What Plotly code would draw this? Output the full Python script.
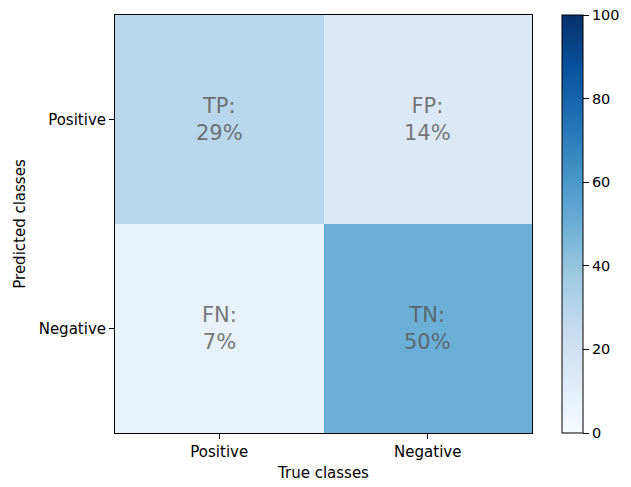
import plotly.graph_objects as go

true_classes = ["Positive", "Negative"]
pred_classes = ["Positive", "Negative"]
values = [[29, 14], [7, 50]]
labels = [["TP", "FP"], ["FN", "TN"]]
cbar_ticks = [0, 20, 40, 60, 80, 100]

blues = ['rgb(247,251,255)', 'rgb(222,235,247)', 'rgb(198,219,239)', 'rgb(158,202,225)',
         'rgb(107,174,214)', 'rgb(66,146,198)', 'rgb(33,113,181)', 'rgb(8,81,156)', 'rgb(8,48,107)']
cscale = [[i / (len(blues) - 1), c] for i, c in enumerate(blues)]

FONT = "DejaVu Sans"
FS = 15

fig = go.Figure(go.Heatmap(
    z=values, x=true_classes, y=pred_classes,
    colorscale=cscale, zmin=0, zmax=100, xgap=0, ygap=0,
    hoverinfo="skip",
    colorbar=dict(
        x=1.069, xanchor="left", xref="paper", y=0.5, yanchor="middle", len=1, lenmode="fraction",
        thickness=21, thicknessmode="pixels",
        outlinewidth=1, outlinecolor="black",
        tickmode="array", tickvals=cbar_ticks, ticktext=[str(t) for t in cbar_ticks],
        ticks="outside", ticklen=6, tickwidth=1, tickcolor="black",
        tickfont=dict(family=FONT, size=14.5, color="black"),
        xpad=0, ypad=0,
    ),
))

for i, row in enumerate(values):
    for j, v in enumerate(row):
        fig.add_annotation(
            x=true_classes[j], y=pred_classes[i],
            text=f"{labels[i][j]}:<br>{v}%",
            showarrow=False,
            font=dict(family=FONT, size=21, color="rgba(85,85,85,0.8)"),
        )

fig.update_layout(
    width=631, height=487,
    margin=dict(l=115, r=98, t=15, b=54),
    paper_bgcolor="white", plot_bgcolor="white",
    font=dict(family=FONT, size=FS, color="black"),
    xaxis=dict(
        title=dict(text="True classes", font=dict(family=FONT, size=FS), standoff=7),
        automargin=False,
        showline=True, linecolor="black", linewidth=1, mirror=True,
        ticks="outside", ticklen=5, tickcolor="black", showgrid=False, zeroline=False,
        tickfont=dict(family=FONT, size=FS),
    ),
    yaxis=dict(
        title=dict(text="Predicted classes", font=dict(family=FONT, size=FS), standoff=9),
        automargin=False,
        showline=True, linecolor="black", linewidth=1, mirror=True,
        ticks="outside", ticklen=5, tickcolor="black", showgrid=False, zeroline=False,
        autorange="reversed",
        tickfont=dict(family=FONT, size=FS),
    ),
)

fig.write_html("out.html")
